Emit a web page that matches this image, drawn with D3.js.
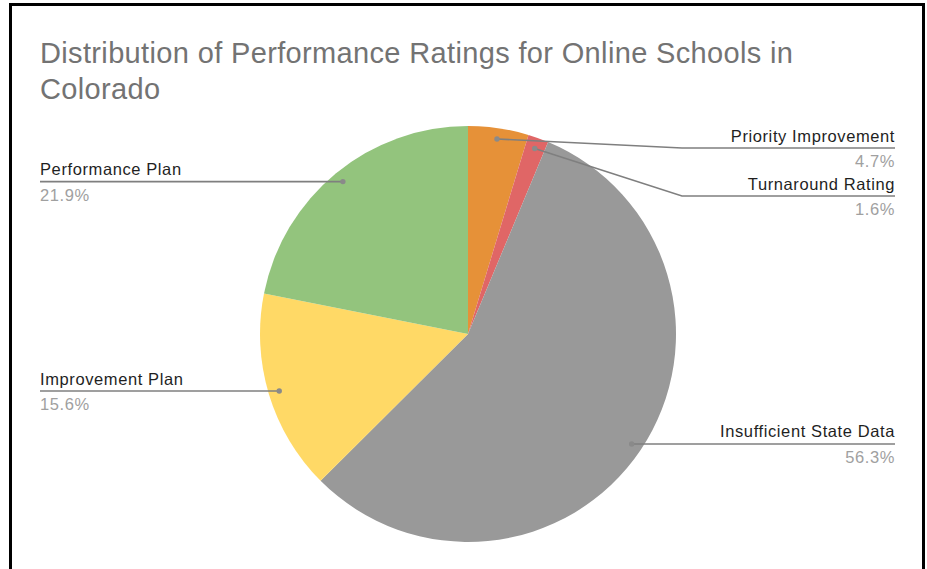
<!DOCTYPE html>
<html>
<head>
<meta charset="utf-8">
<script src="https://cdn.jsdelivr.net/npm/d3@7"></script>
<style>
  html, body { margin: 0; padding: 0; background: #fff; }
  svg { display: block; }
  text { font-family: "Liberation Sans", Arial, sans-serif; }
</style>
</head>
<body>
<svg id="chart" width="927" height="569"></svg>
<script>
// Performance ratings of online schools (share of schools, %)
const categories = [
  "Priority Improvement",
  "Turnaround Rating",
  "Insufficient State Data",
  "Improvement Plan",
  "Performance Plan"
];
const shares = [4.7, 1.6, 56.3, 15.6, 21.9];
const shareLabels = ["4.7%", "1.6%", "56.3%", "15.6%", "21.9%"];
const sliceColors = ["#e69138", "#e06666", "#999999", "#ffd966", "#93c47d"];
const titleLines = [
  "Distribution of Performance Ratings for Online Schools in",
  "Colorado"
];

const W = 927, H = 569;
const cx = 468, cy = 334, R = 208;
const svg = d3.select("#chart");

// frame
svg.append("path")
  .attr("d", `M10.5,${H} L10.5,4.5 L923.5,4.5 L923.5,${H}`)
  .attr("fill", "none")
  .attr("stroke", "#000")
  .attr("stroke-width", 3);

// title
svg.append("g").selectAll("text")
  .data(titleLines)
  .join("text")
  .attr("x", 40)
  .attr("y", (d, i) => 63 + i * 35.5)
  .attr("font-size", 29)
  .attr("letter-spacing", 0.35)
  .attr("fill", "#737373")
  .text(d => d);

const data = categories.map((c, i) => ({ name: c, value: shares[i], label: shareLabels[i], color: sliceColors[i] }));

const pie = d3.pie().sort(null).value(d => d.value).startAngle(0).endAngle(2 * Math.PI);
const arcs = pie(data);
const arc = d3.arc().innerRadius(0).outerRadius(R);
const dotArc = d3.arc().innerRadius(R * 0.948).outerRadius(R * 0.948);

const g = svg.append("g").attr("transform", `translate(${cx},${cy})`);
g.selectAll("path.slice")
  .data(arcs)
  .join("path")
  .attr("class", "slice")
  .attr("d", arc)
  .attr("fill", d => d.data.color);

// label layout: right side from the top down, left side as-is
const items = arcs.map(a => {
  const [x, y] = dotArc.centroid(a);
  const mid = (a.startAngle + a.endAngle) / 2;
  return { a, dx: cx + x, dy: cy + y, right: mid < Math.PI, lineY: cy + y };
});
const rightItems = items.filter(d => d.right).sort((p, q) => p.dy - q.dy);
let prev = -Infinity;
const minY = cy - R + 22, gap = 48;
rightItems.forEach(d => {
  d.lineY = Math.max(d.dy, minY, prev + gap);
  prev = d.lineY;
});

const labelRight = 895, labelLeft = 40;
const lg = svg.append("g");
items.forEach(d => {
  let pts;
  if (d.right) {
    const elbowX = Math.max(d.dx, cx + R + 6);
    pts = Math.abs(d.lineY - d.dy) < 1
      ? [[d.dx, d.dy], [labelRight, d.lineY]]
      : [[d.dx, d.dy], [elbowX, d.lineY], [labelRight, d.lineY]];
  } else {
    pts = [[d.dx, d.dy], [labelLeft, d.lineY]];
  }
  lg.append("path")
    .attr("d", d3.line()(pts))
    .attr("fill", "none")
    .attr("stroke", "#7f7f7f")
    .attr("stroke-width", 1.6);
  lg.append("circle")
    .attr("cx", d.dx).attr("cy", d.dy).attr("r", 2.7)
    .attr("fill", "#8a8a8a");

  const x = d.right ? labelRight : labelLeft;
  const anchor = d.right ? "end" : "start";
  lg.append("text")
    .attr("x", x).attr("y", d.lineY - 6.5)
    .attr("text-anchor", anchor)
    .attr("font-size", 16.5)
    .attr("letter-spacing", 0.6)
    .attr("fill", "#1f1f1f")
    .text(d.a.data.name);
  lg.append("text")
    .attr("x", x).attr("y", d.lineY + 19)
    .attr("text-anchor", anchor)
    .attr("font-size", 16.5)
    .attr("letter-spacing", 0.6)
    .attr("fill", "#a0a0a0")
    .text(d.a.data.label);
});
</script>
</body>
</html>
